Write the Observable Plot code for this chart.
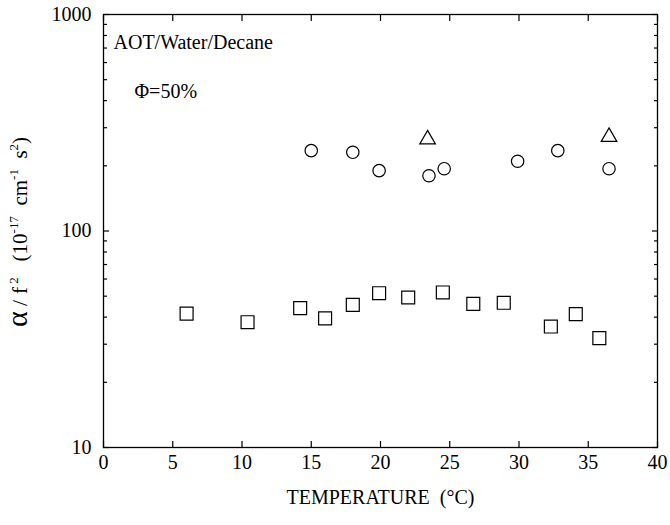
<!DOCTYPE html>
<html>
<head>
<meta charset="utf-8">
<script src="https://cdn.jsdelivr.net/npm/d3@7"></script>
<script src="https://cdn.jsdelivr.net/npm/@observablehq/plot@0.6"></script>
<style>
  body { margin: 0; background: #fff; }
  #chart { width: 670px; height: 525px; }
  #chart svg, #chart svg text, #chart svg tspan { font-family: "Liberation Serif", "Times New Roman", serif !important; }
</style>
</head>
<body>
<div id="chart"></div>
<script>
// Data
const circleT = [15.0, 18.0, 19.9, 23.5, 24.6, 29.9, 32.8, 36.5];
const circleV = [235, 231, 190, 180, 194, 210, 235, 194];
const triangleT = [23.4, 36.5];
const triangleV = [265, 272];
const squareT = [6.0, 10.4, 14.2, 16.0, 18.0, 19.9, 22.0, 24.5, 26.7, 28.9, 32.3, 34.1, 35.8];
const squareV = [41.5, 37.9, 44.0, 39.5, 45.6, 51.6, 49.3, 52.0, 46.1, 46.6, 36.2, 41.3, 32.0];

const xTicks = [0, 5, 10, 15, 20, 25, 30, 35, 40];
const yMajor = [10, 100, 1000];
const yMinor = [20, 30, 40, 50, 60, 70, 80, 90, 200, 300, 400, 500, 600, 700, 800, 900];
const titleText = "AOT/Water/Decane";
const phiText = "\u03A6=50%";
const xLabel = "TEMPERATURE  (\u00B0C)";

const circles = circleT.map((t, i) => ({t, v: circleV[i]}));
const triangles = triangleT.map((t, i) => ({t, v: triangleV[i]}));
const squares = squareT.map((t, i) => ({t, v: squareV[i]}));

const font = "Liberation Serif, Times New Roman, serif";
const empty = () => "";

const chart = Plot.plot({
  width: 670,
  height: 525,
  marginLeft: 103,
  marginRight: 13,
  marginTop: 14,
  marginBottom: 78,
  style: {fontFamily: font, fontSize: "19px", color: "black", background: "white"},
  x: {domain: [0, 40]},
  y: {type: "log", domain: [10, 1000]},
  marks: [
    Plot.frame({stroke: "black", strokeWidth: 1.3}),
    Plot.axisX(xTicks, {anchor: "bottom", tickSize: -6, tickPadding: 13, fontSize: 20, label: null, strokeWidth: 1.2}),
    Plot.axisX(xTicks, {anchor: "top", tickSize: -6, tickFormat: empty, label: null, strokeWidth: 1.2}),
    Plot.axisY(yMajor, {anchor: "left", tickSize: -6, tickPadding: 18, fontSize: 20, label: null, strokeWidth: 1.2, tickFormat: d3.format("d")}),
    Plot.axisY(yMajor, {anchor: "right", tickSize: -6, tickFormat: empty, label: null, strokeWidth: 1.2}),
    Plot.axisY(yMinor, {anchor: "left", tickSize: -4, tickFormat: empty, label: null, strokeWidth: 1.2}),
    Plot.axisY(yMinor, {anchor: "right", tickSize: -4, tickFormat: empty, label: null, strokeWidth: 1.2}),
    Plot.dot(circles, {x: "t", y: "v", symbol: "circle", r: 6.2, stroke: "black", strokeWidth: 1.2, fill: "none"}),
    Plot.dot(squares, {x: "t", y: "v", symbol: "square", r: 7.3, stroke: "black", strokeWidth: 1.2, fill: "none"}),
    Plot.dot(triangles, {x: "t", y: "v", symbol: "triangle", r: 5.8, stroke: "black", strokeWidth: 1.2, fill: "none"}),
    Plot.text([titleText], {frameAnchor: "top-left", dx: 10, dy: 34, textAnchor: "start", lineAnchor: "bottom", fontSize: 20, letterSpacing: 0.6}),
    Plot.text([phiText], {frameAnchor: "top-left", dx: 31, dy: 83, textAnchor: "start", lineAnchor: "bottom", fontSize: 20}),
    Plot.text([xLabel], {frameAnchor: "bottom", dy: 50, lineAnchor: "middle", fontSize: 20})
  ]
});

document.getElementById("chart").appendChild(chart);

// Y-axis label with Greek letter and superscripts
const svg = d3.select(chart);
const yl = svg.append("text")
  .attr("transform", "translate(27,232) rotate(-90)")
  .attr("text-anchor", "middle")
  .attr("font-family", font)
  .attr("font-size", 21)
  .attr("fill", "black");
const parts = [
  {t: "\u03B1", s: 30, dy: 0},
  {t: " / f", s: 22, dy: 0},
  {t: " 2", s: 13, dy: -9},
  {t: "   (10", s: 21, dy: 9},
  {t: "-17", s: 13, dy: -9},
  {t: "  cm", s: 21, dy: 9},
  {t: "-1", s: 13, dy: -9},
  {t: "  s", s: 21, dy: 9},
  {t: "2", s: 13, dy: -9},
  {t: ")", s: 21, dy: 9}
];
parts.forEach(p => {
  yl.append("tspan").attr("font-size", p.s).attr("dy", p.dy).attr("xml:space", "preserve").text(p.t);
});
</script>
</body>
</html>
